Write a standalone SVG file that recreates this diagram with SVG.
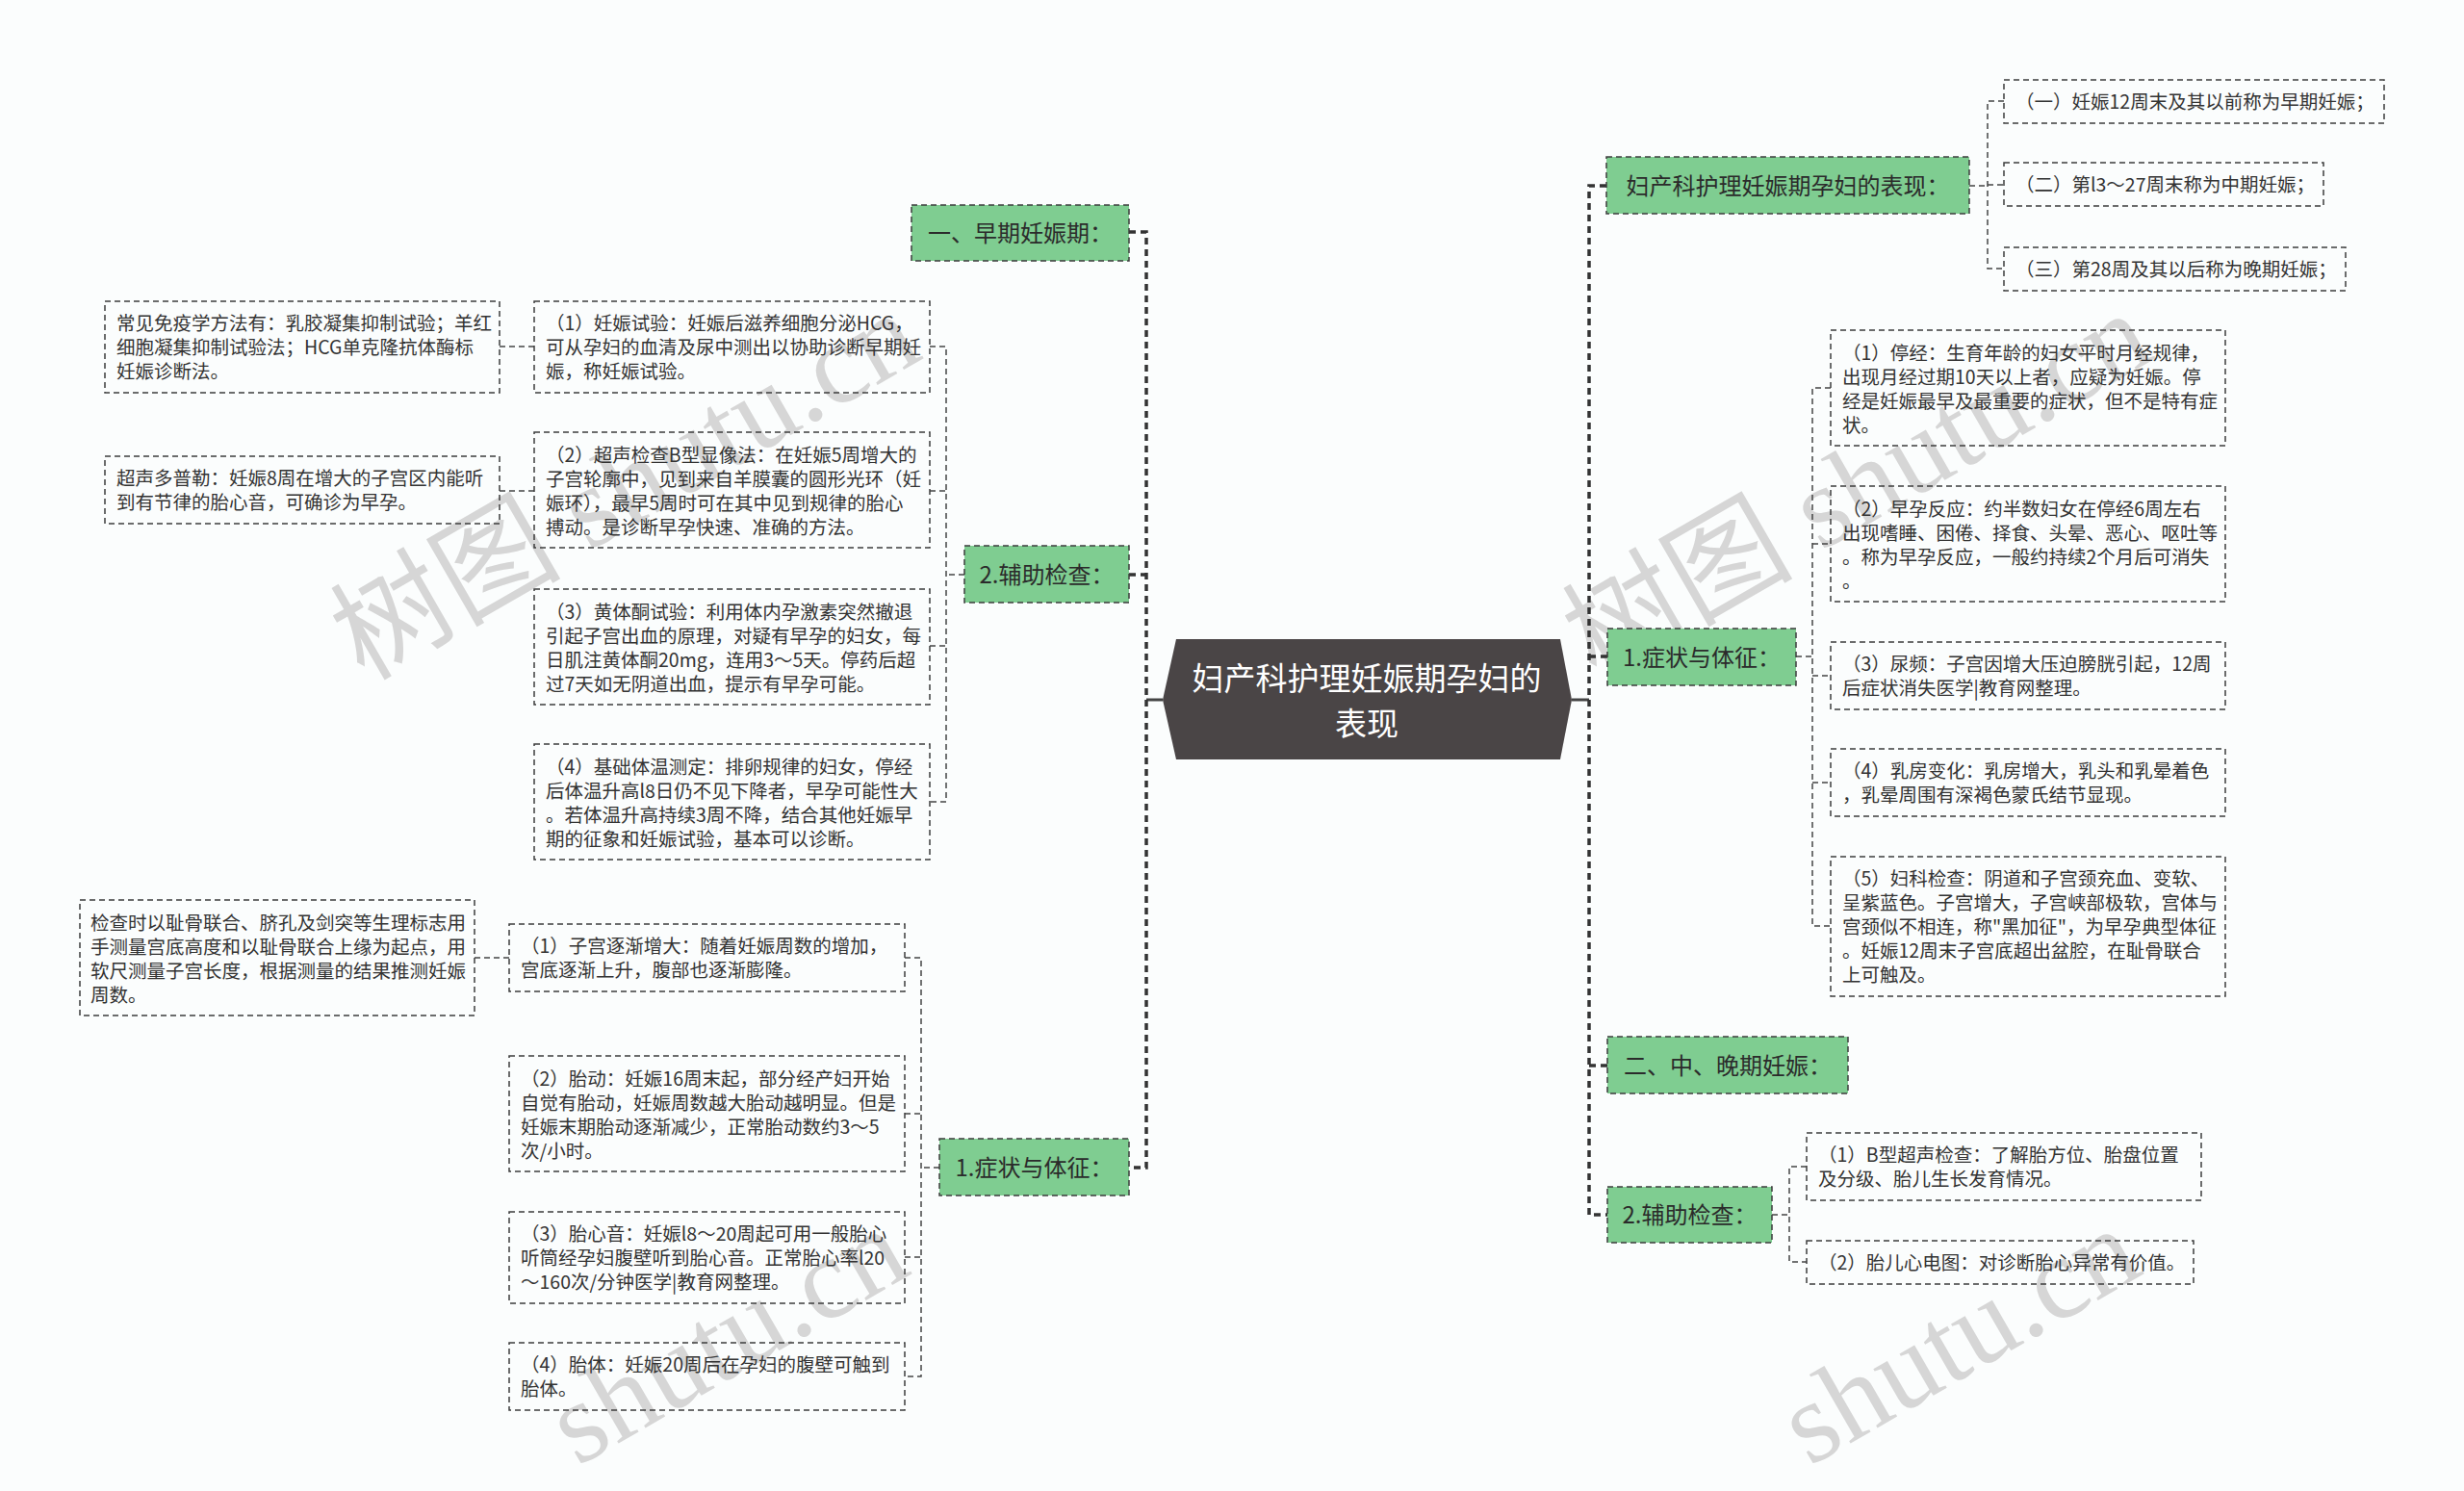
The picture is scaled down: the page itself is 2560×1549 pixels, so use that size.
<svg xmlns="http://www.w3.org/2000/svg" width="2560" height="1549" viewBox="0 0 2560 1549">
<style>
.bg{fill:#fbfdfd}
.wm{font-family:"Liberation Serif","Noto Sans CJK SC",serif;font-size:120px;fill:#d6d6d6}
.leaf rect{fill:none;stroke:#3c3c3c;stroke-width:1.5;stroke-dasharray:6 4}
.leaf text{font-family:"Noto Sans CJK SC",sans-serif;font-size:19.5px;fill:#333}
.cat rect{fill:#7fcd91;stroke:#3c3c3c;stroke-width:1.5;stroke-dasharray:6 4}
.cat text{font-family:"Noto Sans CJK SC",sans-serif;font-size:24px;fill:#2b2b2b;text-anchor:middle}
.root polygon{fill:#4a4546}
.root text{font-family:"Noto Sans CJK SC",sans-serif;font-size:33px;fill:#fff;text-anchor:middle}
.link{fill:none;stroke:#444;stroke-width:1.5;stroke-dasharray:6 4}
.trunk{fill:none;stroke:#333;stroke-width:3.5;stroke-dasharray:7 5}
.stem{fill:none;stroke:#444;stroke-width:3}
</style>
<rect class="bg" x="0" y="0" width="2560" height="1549"/>
<g id="watermarks">
<text class="wm" transform="translate(378,708) rotate(-30)">树图 shutu.cn</text>
<text class="wm" transform="translate(1658,708) rotate(-30)">树图 shutu.cn</text>
<text class="wm" transform="translate(600,1524) rotate(-30)">shutu.cn</text>
<text class="wm" transform="translate(1880,1524) rotate(-30)">shutu.cn</text>
</g>
<g id="connectors">
<path class="stem" d="M1208,727 H1191"/>
<path class="stem" d="M1633,727 H1651"/>
<path class="trunk" d="M1173,241 H1191 V1213 H1173"/>
<path class="trunk" d="M1173,597 H1191"/>
<path class="trunk" d="M1669,193 H1651 V1262 H1670"/>
<path class="trunk" d="M1670,682 H1651"/>
<path class="trunk" d="M1670,1107 H1651"/>
<path class="link" d="M1002,597 H983"/>
<path class="link" d="M966,360 H983 V833 H966"/>
<path class="link" d="M966,510 H983"/>
<path class="link" d="M966,671 H983"/>
<path class="link" d="M519,360 H555"/>
<path class="link" d="M519,510 H555"/>
<path class="link" d="M976,1213 H957"/>
<path class="link" d="M940,995 H957 V1430 H940"/>
<path class="link" d="M940,1157 H957"/>
<path class="link" d="M940,1306 H957"/>
<path class="link" d="M493,995 H529"/>
<path class="link" d="M2046,193 H2065"/>
<path class="link" d="M2082,105 H2065 V279 H2082"/>
<path class="link" d="M2065,192 H2082"/>
<path class="link" d="M1866,682 H1883"/>
<path class="link" d="M1902,403 H1883 V962 H1902"/>
<path class="link" d="M1883,565 H1902"/>
<path class="link" d="M1883,702 H1902"/>
<path class="link" d="M1883,813 H1902"/>
<path class="link" d="M1841,1262 H1859"/>
<path class="link" d="M1877,1212 H1859 V1311 H1877"/>
</g>
<g id="root" class="root">
<polygon points="1222,664 1621,664 1633,727 1621,789 1222,789 1208,727"/>
<text x="1420" y="717">妇产科护理妊娠期孕妇的</text>
<text x="1420" y="764">表现</text>
</g>
<g id="n-early" class="cat"><rect x="947" y="213" width="226" height="58"/><text x="1060" y="251">一、早期妊娠期：</text></g>
<g id="n-aux-left" class="cat"><rect x="1002" y="567" width="171" height="59"/><text x="1087.5" y="605.5">2.辅助检查：</text></g>
<g id="n-sym-left" class="cat"><rect x="976" y="1183" width="197" height="59"/><text x="1074.5" y="1221.5">1.症状与体征：</text></g>
<g id="n-def" class="cat"><rect x="1669" y="163" width="377" height="59"/><text x="1857.5" y="201.5">妇产科护理妊娠期孕妇的表现：</text></g>
<g id="n-sym-right" class="cat"><rect x="1670" y="653" width="196" height="59"/><text x="1768" y="691.5">1.症状与体征：</text></g>
<g id="n-mid" class="cat"><rect x="1670" y="1077" width="250" height="59"/><text x="1795" y="1115.5">二、中、晚期妊娠：</text></g>
<g id="n-aux-right" class="cat"><rect x="1670" y="1233" width="171" height="58"/><text x="1755.5" y="1271">2.辅助检查：</text></g>
<g id="leaf-a" class="leaf"><rect x="109" y="313" width="410" height="95"/>
<text x="121" y="342.5"><tspan>常见免疫学方法有：乳胶凝集抑制试验；羊红</tspan><tspan x="121" dy="25">细胞凝集抑制试验法；HCG单克隆抗体酶标</tspan><tspan x="121" dy="25">妊娠诊断法。</tspan></text></g>
<g id="leaf-b" class="leaf"><rect x="555" y="313" width="411" height="95"/>
<text x="567" y="342.5"><tspan>（1）妊娠试验：妊娠后滋养细胞分泌HCG，</tspan><tspan x="567" dy="25">可从孕妇的血清及尿中测出以协助诊断早期妊</tspan><tspan x="567" dy="25">娠，称妊娠试验。</tspan></text></g>
<g id="leaf-c" class="leaf"><rect x="109" y="474" width="410" height="70"/>
<text x="121" y="503.5"><tspan>超声多普勒：妊娠8周在增大的子宫区内能听</tspan><tspan x="121" dy="25">到有节律的胎心音，可确诊为早孕。</tspan></text></g>
<g id="leaf-d" class="leaf"><rect x="555" y="449" width="411" height="120"/>
<text x="567" y="479.5"><tspan>（2）超声检查B型显像法：在妊娠5周增大的</tspan><tspan x="567" dy="25">子宫轮廓中，见到来自羊膜囊的圆形光环（妊</tspan><tspan x="567" dy="25">娠环），最早5周时可在其中见到规律的胎心</tspan><tspan x="567" dy="25">搏动。是诊断早孕快速、准确的方法。</tspan></text></g>
<g id="leaf-e" class="leaf"><rect x="555" y="612" width="411" height="120"/>
<text x="567" y="642.5"><tspan>（3）黄体酮试验：利用体内孕激素突然撤退</tspan><tspan x="567" dy="25">引起子宫出血的原理，对疑有早孕的妇女，每</tspan><tspan x="567" dy="25">日肌注黄体酮20mg，连用3～5天。停药后超</tspan><tspan x="567" dy="25">过7天如无阴道出血，提示有早孕可能。</tspan></text></g>
<g id="leaf-f" class="leaf"><rect x="555" y="773" width="411" height="120"/>
<text x="567" y="803.5"><tspan>（4）基础体温测定：排卵规律的妇女，停经</tspan><tspan x="567" dy="25">后体温升高l8日仍不见下降者，早孕可能性大</tspan><tspan x="567" dy="25">。若体温升高持续3周不降，结合其他妊娠早</tspan><tspan x="567" dy="25">期的征象和妊娠试验，基本可以诊断。</tspan></text></g>
<g id="leaf-g" class="leaf"><rect x="83" y="935" width="410" height="120"/>
<text x="94" y="965.5"><tspan>检查时以耻骨联合、脐孔及剑突等生理标志用</tspan><tspan x="94" dy="25">手测量宫底高度和以耻骨联合上缘为起点，用</tspan><tspan x="94" dy="25">软尺测量子宫长度，根据测量的结果推测妊娠</tspan><tspan x="94" dy="25">周数。</tspan></text></g>
<g id="leaf-h" class="leaf"><rect x="529" y="960" width="411" height="70"/>
<text x="541" y="989.5"><tspan>（1）子宫逐渐增大：随着妊娠周数的增加，</tspan><tspan x="541" dy="25">宫底逐渐上升，腹部也逐渐膨隆。</tspan></text></g>
<g id="leaf-i" class="leaf"><rect x="529" y="1097" width="411" height="120"/>
<text x="541" y="1127.5"><tspan>（2）胎动：妊娠16周末起，部分经产妇开始</tspan><tspan x="541" dy="25">自觉有胎动，妊娠周数越大胎动越明显。但是</tspan><tspan x="541" dy="25">妊娠末期胎动逐渐减少，正常胎动数约3～5</tspan><tspan x="541" dy="25">次/小时。</tspan></text></g>
<g id="leaf-j" class="leaf"><rect x="529" y="1259" width="411" height="95"/>
<text x="541" y="1288.5"><tspan>（3）胎心音：妊娠l8～20周起可用一般胎心</tspan><tspan x="541" dy="25">听筒经孕妇腹壁听到胎心音。正常胎心率l20</tspan><tspan x="541" dy="25">～160次/分钟医学|教育网整理。</tspan></text></g>
<g id="leaf-k" class="leaf"><rect x="529" y="1395" width="411" height="70"/>
<text x="541" y="1424.5"><tspan>（4）胎体：妊娠20周后在孕妇的腹壁可触到</tspan><tspan x="541" dy="25">胎体。</tspan></text></g>
<g id="leaf-l" class="leaf"><rect x="2082" y="83" width="395" height="45"/>
<text x="2094" y="112.5">（一）妊娠12周末及其以前称为早期妊娠；</text></g>
<g id="leaf-m" class="leaf"><rect x="2082" y="169" width="332" height="45"/>
<text x="2094" y="198.5">（二）第l3～27周末称为中期妊娠；</text></g>
<g id="leaf-n" class="leaf"><rect x="2082" y="257" width="355" height="45"/>
<text x="2094" y="286.5">（三）第28周及其以后称为晚期妊娠；</text></g>
<g id="leaf-o" class="leaf"><rect x="1902" y="343" width="410" height="120"/>
<text x="1914" y="373.5"><tspan>（1）停经：生育年龄的妇女平时月经规律，</tspan><tspan x="1914" dy="25">出现月经过期10天以上者，应疑为妊娠。停</tspan><tspan x="1914" dy="25">经是妊娠最早及最重要的症状，但不是特有症</tspan><tspan x="1914" dy="25">状。</tspan></text></g>
<g id="leaf-p" class="leaf"><rect x="1902" y="505" width="410" height="120"/>
<text x="1914" y="535.5"><tspan>（2）早孕反应：约半数妇女在停经6周左右</tspan><tspan x="1914" dy="25">出现嗜睡、困倦、择食、头晕、恶心、呕吐等</tspan><tspan x="1914" dy="25">。称为早孕反应，一般约持续2个月后可消失</tspan><tspan x="1914" dy="25">。</tspan></text></g>
<g id="leaf-q" class="leaf"><rect x="1902" y="667" width="410" height="70"/>
<text x="1914" y="696.5"><tspan>（3）尿频：子宫因增大压迫膀胱引起，12周</tspan><tspan x="1914" dy="25">后症状消失医学|教育网整理。</tspan></text></g>
<g id="leaf-r" class="leaf"><rect x="1902" y="778" width="410" height="70"/>
<text x="1914" y="807.5"><tspan>（4）乳房变化：乳房增大，乳头和乳晕着色</tspan><tspan x="1914" dy="25">，乳晕周围有深褐色蒙氏结节显现。</tspan></text></g>
<g id="leaf-s" class="leaf"><rect x="1902" y="890" width="410" height="145"/>
<text x="1914" y="919.5"><tspan>（5）妇科检查：阴道和子宫颈充血、变软、</tspan><tspan x="1914" dy="25">呈紫蓝色。子宫增大，子宫峡部极软，宫体与</tspan><tspan x="1914" dy="25">宫颈似不相连，称"黑加征"，为早孕典型体征</tspan><tspan x="1914" dy="25">。妊娠12周末子宫底超出盆腔，在耻骨联合</tspan><tspan x="1914" dy="25">上可触及。</tspan></text></g>
<g id="leaf-t" class="leaf"><rect x="1877" y="1177" width="410" height="70"/>
<text x="1889" y="1206.5"><tspan>（1）B型超声检查：了解胎方位、胎盘位置</tspan><tspan x="1889" dy="25">及分级、胎儿生长发育情况。</tspan></text></g>
<g id="leaf-u" class="leaf"><rect x="1877" y="1289" width="402" height="45"/>
<text x="1889" y="1318.5">（2）胎儿心电图：对诊断胎心异常有价值。</text></g>
</svg>
